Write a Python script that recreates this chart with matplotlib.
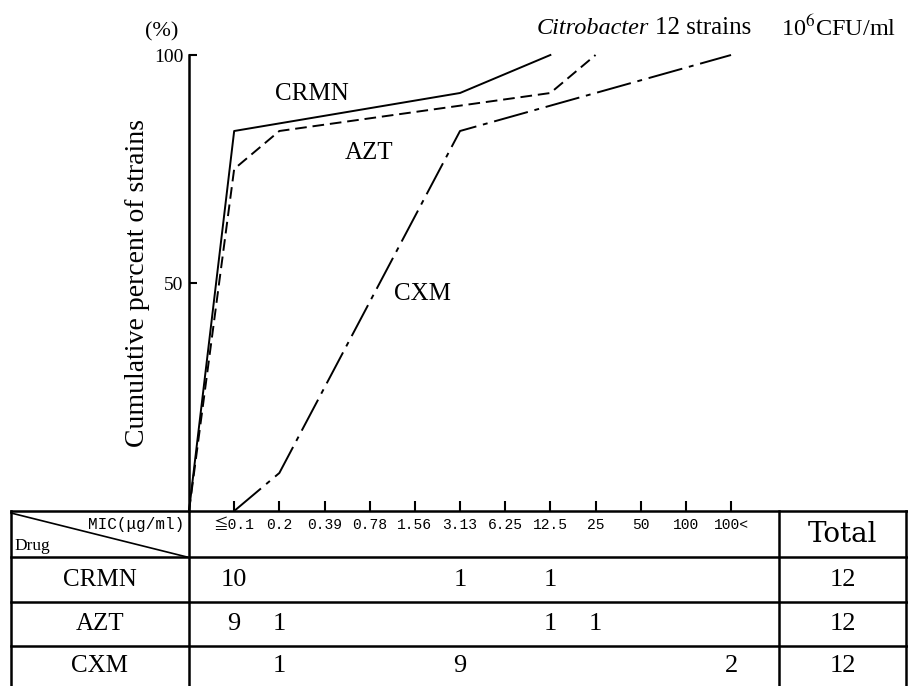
import matplotlib
matplotlib.use("Agg")
import matplotlib.pyplot as plt
from matplotlib.transforms import blended_transform_factory
import numpy as np

# MIC categories and number of strains per drug
mic_labels = ["≦0.1", "0.2", "0.39", "0.78", "1.56", "3.13", "6.25", "12.5", "25", "50", "100", "100<"]
drugs = ["CRMN", "AZT", "CXM"]
crmn_counts = [10, 0, 0, 0, 0, 1, 0, 1, 0, 0, 0, 0]
azt_counts = [9, 1, 0, 0, 0, 0, 0, 1, 1, 0, 0, 0]
cxm_counts = [0, 1, 0, 0, 0, 9, 0, 0, 0, 0, 0, 2]
totals = [12, 12, 12]

plt.rcParams['font.family'] = ['Liberation Serif', 'Noto Sans CJK JP']
plt.rcParams['mathtext.fontset'] = 'stix'
mono = ['Liberation Mono', 'Noto Sans CJK JP']

W, H = 908, 686
fig = plt.figure(figsize=(W / 100, H / 100), dpi=100)

# overlay in pixel coordinates for the table
ov = fig.add_axes([0, 0, 1, 1])
ov.set_xlim(0, W)
ov.set_ylim(H, 0)
ov.axis('off')

# plot axes: origin at (189, 511), 100% at y=55
x0, y0, ytop, xr = 189, 511, 55, 779
ax = fig.add_axes([x0 / W, (H - y0) / H, (xr - x0) / W, (y0 - ytop) / H])
ax.patch.set_alpha(0)
unit = 45.17
ax.set_xlim(0, (xr - x0) / unit)
ax.set_ylim(0, 100)
for s in ['top', 'right', 'bottom']:
    ax.spines[s].set_visible(False)
ax.spines['left'].set_linewidth(1.8)


def cum_points(counts):
    counts = np.array(counts)
    total = counts.sum()
    idx = np.nonzero(counts)[0]
    xs = [idx[0]]  # category before the first hit (0 = origin)
    ys = [0.0]
    c = 0
    for i in idx:
        c += counts[i]
        xs.append(i + 1)
        ys.append(100.0 * c / total)
    return xs, ys


styles = {
    "CRMN": dict(linestyle='-'),
    "AZT": dict(dashes=(6, 3)),
    "CXM": dict(dashes=(18, 3.5, 2.5, 3.5)),
}
for name, counts in zip(drugs, [crmn_counts, azt_counts, cxm_counts]):
    xs, ys = cum_points(counts)
    ax.plot(xs, ys, color='black', lw=1.4, clip_on=False, **styles[name])

ax.text(2.72, 91.5, "CRMN", fontsize=18, ha='center', va='center')
ax.text(3.99, 78.5, "AZT", fontsize=18, ha='center', va='center')
ax.text(5.18, 47.5, "CXM", fontsize=18, ha='center', va='center')

ax.set_xticks(range(1, 13))
ax.set_xticklabels(mic_labels, fontsize=10.5, family=mono)
ax.tick_params(axis='x', direction='in', length=7, width=1.5, pad=5)
ax.set_yticks([50, 100])
ax.set_yticklabels(["50", "100"], fontsize=14)
ax.tick_params(axis='y', direction='in', length=6, width=1.5, pad=4)
ax.set_ylabel("Cumulative percent of strains", fontsize=20)
ax.yaxis.set_label_coords(-0.066, 0.5)
ax.text(-0.6, 105, "(%)", fontsize=16, ha='center', va='center')

# title
ov.text(537, 28, "Citrobacter", fontsize=17.5, style='italic', va='center', ha='left')
ov.text(655, 28, "12 strains", fontsize=18, va='center', ha='left')
ov.text(781, 28, r"10$^{6}$CFU/ml", fontsize=17.5, va='center', ha='left')

# table grid
lw = 1.8
row_y = [511, 557, 602, 646, 686]
for y in row_y[:-1]:
    ov.plot([11, 908], [y, y], color='black', lw=lw)
for x in [11, 189, 779, 906]:
    ov.plot([x, x], [511, 686], color='black', lw=lw)
ov.plot([11, 187], [513, 557], color='black', lw=1.2)
ov.text(184, 525, "MIC(μg/ml)", fontsize=11.5, family=mono, ha='right', va='center')
ov.text(14, 546, "Drug", fontsize=12.5, ha='left', va='center')
ov.text(843, 534, "Total", fontsize=20, family='DejaVu Serif', ha='center', va='center')

tr = blended_transform_factory(ax.transData, ov.transData)
for r, (name, counts, tot) in enumerate(zip(drugs, [crmn_counts, azt_counts, cxm_counts], totals)):
    yc = (row_y[r + 1] + row_y[r + 2]) / 2
    ov.text(100, yc, name, fontsize=18, ha='center', va='center')
    for i, c in enumerate(counts):
        if c:
            ax.text(i + 1, yc, str(c), fontsize=19, ha='center', va='center', transform=tr, clip_on=False)
    ov.text(843, yc, str(tot), fontsize=19, ha='center', va='center')

fig.savefig("out.png", dpi=100)
